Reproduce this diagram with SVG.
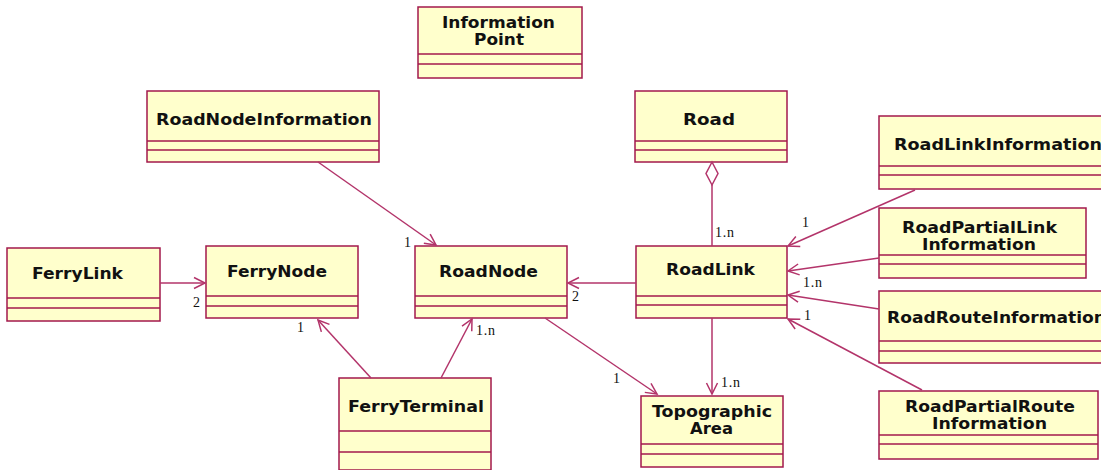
<svg xmlns="http://www.w3.org/2000/svg" width="1101" height="470" viewBox="0 0 1101 470">
<style>
.box{fill:#ffffcc;stroke:#a3184c;stroke-width:1.5}
.div{stroke:#a3184c;stroke-width:1.5}
.name{font-family:"DejaVu Sans",Verdana,sans-serif;font-weight:bold;font-size:15px;fill:#111}
.conn{fill:none;stroke:#b3346a;stroke-width:1.5}
.mult{font-family:"Liberation Serif","Times New Roman",serif;font-size:14px;letter-spacing:0.8px;fill:#111}
</style>
<defs>
<marker id="open" markerUnits="userSpaceOnUse" markerWidth="14" markerHeight="14" viewBox="-12 -7 14 14" refX="0" refY="0" orient="auto">
<path d="M -11 -5.5 L 0 0 L -11 5.5" fill="none" stroke="#b3346a" stroke-width="1.5"/>
</marker>
</defs>
<rect width="1101" height="470" fill="#ffffff"/>

<g id="InformationPoint">
<rect class="box" x="418" y="7" width="164" height="71"/>
<line class="div" x1="418" y1="54" x2="582" y2="54"/>
<line class="div" x1="418" y1="64" x2="582" y2="64"/>
<text class="name" x="442" y="28" textLength="113" lengthAdjust="spacingAndGlyphs">Information</text>
<text class="name" x="474" y="45" textLength="50" lengthAdjust="spacingAndGlyphs">Point</text>
</g>

<g id="RoadNodeInformation">
<rect class="box" x="147" y="91" width="232" height="71"/>
<line class="div" x1="147" y1="141" x2="379" y2="141"/>
<line class="div" x1="147" y1="150" x2="379" y2="150"/>
<text class="name" x="156" y="125" textLength="216" lengthAdjust="spacingAndGlyphs">RoadNodeInformation</text>
</g>

<g id="Road">
<rect class="box" x="635" y="91" width="152" height="71"/>
<line class="div" x1="635" y1="141" x2="787" y2="141"/>
<line class="div" x1="635" y1="150" x2="787" y2="150"/>
<text class="name" x="683" y="125" textLength="52" lengthAdjust="spacingAndGlyphs">Road</text>
</g>

<g id="RoadLinkInformation">
<rect class="box" x="879" y="116" width="230" height="73"/>
<line class="div" x1="879" y1="166" x2="1109" y2="166"/>
<line class="div" x1="879" y1="175" x2="1109" y2="175"/>
<text class="name" x="894" y="150" textLength="208" lengthAdjust="spacingAndGlyphs">RoadLinkInformation</text>
</g>

<g id="RoadPartialLinkInformation">
<rect class="box" x="879" y="208" width="207" height="70"/>
<line class="div" x1="879" y1="255" x2="1086" y2="255"/>
<line class="div" x1="879" y1="264" x2="1086" y2="264"/>
<text class="name" x="902" y="233" textLength="155" lengthAdjust="spacingAndGlyphs">RoadPartialLink</text>
<text class="name" x="922" y="250" textLength="114" lengthAdjust="spacingAndGlyphs">Information</text>
</g>

<g id="RoadRouteInformation">
<rect class="box" x="879" y="291" width="230" height="72"/>
<line class="div" x1="879" y1="341" x2="1109" y2="341"/>
<line class="div" x1="879" y1="351" x2="1109" y2="351"/>
<text class="name" x="887" y="323" textLength="219" lengthAdjust="spacingAndGlyphs">RoadRouteInformation</text>
</g>

<g id="RoadPartialRouteInformation">
<rect class="box" x="879" y="391" width="219" height="68"/>
<line class="div" x1="879" y1="435" x2="1098" y2="435"/>
<line class="div" x1="879" y1="444" x2="1098" y2="444"/>
<text class="name" x="905" y="412" textLength="170" lengthAdjust="spacingAndGlyphs">RoadPartialRoute</text>
<text class="name" x="932" y="429" textLength="115" lengthAdjust="spacingAndGlyphs">Information</text>
</g>

<g id="FerryLink">
<rect class="box" x="7" y="248" width="153" height="73"/>
<line class="div" x1="7" y1="298" x2="160" y2="298"/>
<line class="div" x1="7" y1="308" x2="160" y2="308"/>
<text class="name" x="32" y="279" textLength="91" lengthAdjust="spacingAndGlyphs">FerryLink</text>
</g>

<g id="FerryNode">
<rect class="box" x="206" y="246" width="152" height="72"/>
<line class="div" x1="206" y1="296" x2="358" y2="296"/>
<line class="div" x1="206" y1="306" x2="358" y2="306"/>
<text class="name" x="227" y="277" textLength="100" lengthAdjust="spacingAndGlyphs">FerryNode</text>
</g>

<g id="RoadNode">
<rect class="box" x="415" y="246" width="152" height="72"/>
<line class="div" x1="415" y1="296" x2="567" y2="296"/>
<line class="div" x1="415" y1="306" x2="567" y2="306"/>
<text class="name" x="439" y="277" textLength="99" lengthAdjust="spacingAndGlyphs">RoadNode</text>
</g>

<g id="RoadLink">
<rect class="box" x="636" y="246" width="151" height="72"/>
<line class="div" x1="636" y1="296" x2="787" y2="296"/>
<line class="div" x1="636" y1="305" x2="787" y2="305"/>
<text class="name" x="666" y="275" textLength="89" lengthAdjust="spacingAndGlyphs">RoadLink</text>
</g>

<g id="FerryTerminal">
<rect class="box" x="339" y="378" width="152" height="92"/>
<line class="div" x1="339" y1="431" x2="491" y2="431"/>
<line class="div" x1="339" y1="452" x2="491" y2="452"/>
<text class="name" x="348" y="412" textLength="136" lengthAdjust="spacingAndGlyphs">FerryTerminal</text>
</g>

<g id="TopographicArea">
<rect class="box" x="641" y="396" width="142" height="71"/>
<line class="div" x1="641" y1="444" x2="783" y2="444"/>
<line class="div" x1="641" y1="454" x2="783" y2="454"/>
<text class="name" x="652" y="417" textLength="120" lengthAdjust="spacingAndGlyphs">Topographic</text>
<text class="name" x="690" y="434" textLength="43" lengthAdjust="spacingAndGlyphs">Area</text>
</g>

<g id="connectors">
<path class="conn" d="M 712 185 L 712 246"/>
<path d="M 712 162 L 718 173.5 L 712 185 L 706 173.5 Z" fill="#ffffff" stroke="#b3346a" stroke-width="1.5"/>
<path class="conn" d="M 160 283 L 205 283" marker-end="url(#open)"/>
<path class="conn" d="M 636 283 L 568 283" marker-end="url(#open)"/>
<path class="conn" d="M 318 162 L 436 245" marker-end="url(#open)"/>
<path class="conn" d="M 371 378 L 318 320" marker-end="url(#open)"/>
<path class="conn" d="M 441 378 L 472 319" marker-end="url(#open)"/>
<path class="conn" d="M 545 318 L 657 394" marker-end="url(#open)"/>
<path class="conn" d="M 712 318 L 712 394" marker-end="url(#open)"/>
<path class="conn" d="M 915 190 L 788 246" marker-end="url(#open)"/>
<path class="conn" d="M 879 258 L 788 271" marker-end="url(#open)"/>
<path class="conn" d="M 879 309 L 788 295" marker-end="url(#open)"/>
<path class="conn" d="M 922 390 L 788 319" marker-end="url(#open)"/>
<text class="mult" x="715" y="237">1.n</text>
<text class="mult" x="802" y="227">1</text>
<text class="mult" x="404" y="247">1</text>
<text class="mult" x="193" y="307">2</text>
<text class="mult" x="297" y="332">1</text>
<text class="mult" x="572" y="301">2</text>
<text class="mult" x="476" y="335">1.n</text>
<text class="mult" x="613" y="383">1</text>
<text class="mult" x="721" y="387">1.n</text>
<text class="mult" x="803" y="287">1.n</text>
<text class="mult" x="804" y="320">1</text>
</g>
</svg>
